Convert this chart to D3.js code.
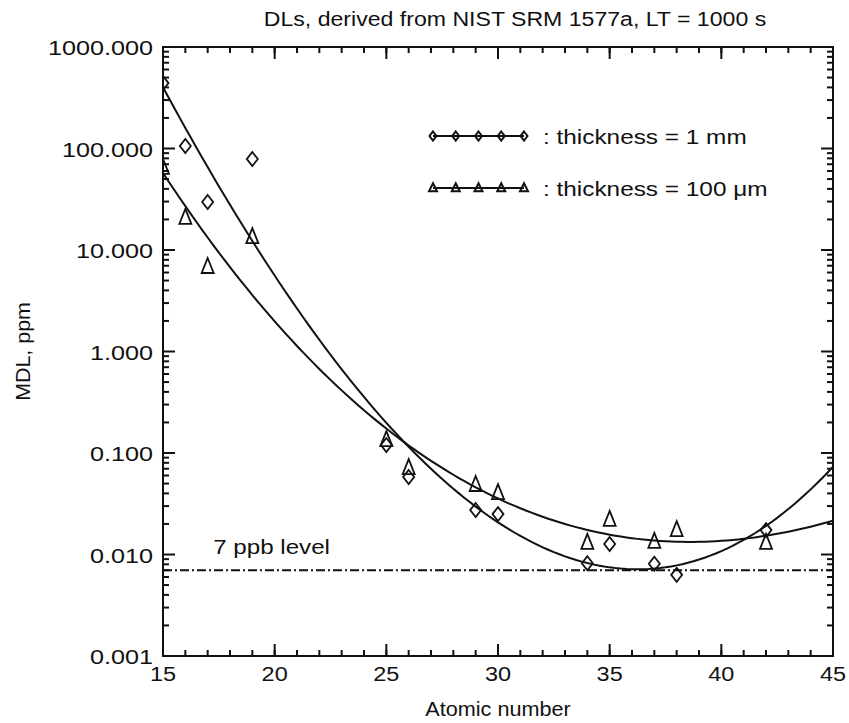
<!DOCTYPE html>
<html>
<head>
<meta charset="utf-8">
<script src="https://cdn.jsdelivr.net/npm/d3@7"></script>
<style>
  body { margin: 0; background: #fff; }
  svg text { font-family: "Liberation Sans", Arial, Helvetica, sans-serif; fill: #111; }
</style>
</head>
<body>
<svg id="chart"></svg>
<script>
const width = 849;
const height = 723;
const margin = {top: 47, right: 16, bottom: 67, left: 163};

// data
const atomicZ   = [15, 16, 17, 19, 25, 26, 29, 30, 34, 35, 37, 38, 42];
const mdl1mm    = [441, 106, 29.7, 78.8, 0.12, 0.058, 0.0274, 0.025, 0.0082, 0.0127, 0.0081, 0.0063, 0.0174];
const mdl100um  = [64.3, 20.7, 6.8, 13.4, 0.134, 0.071, 0.0484, 0.0403, 0.013, 0.0219, 0.0133, 0.0174, 0.013];
const xTicks = [15, 20, 25, 30, 35, 40, 45];
const yTicks = [0.001, 0.01, 0.1, 1, 10, 100, 1000];
const levelValue = 0.007;
const fitDegree = 3;

var svg = d3.select("#chart").attr("width", width).attr("height", height);

var x = d3.scaleLinear().domain([15, 45]).range([margin.left, width - margin.right]);
var y = d3.scaleLog().domain([0.001, 1000]).range([height - margin.bottom, margin.top]);

// least squares polynomial in log10 space
function polyfit(xs, ys, deg) {
  var n = deg + 1;
  var A = [], b = [];
  for (let i = 0; i < n; i++) {
    A.push(new Array(n).fill(0));
    b.push(0);
  }
  xs.forEach((xv, k) => {
    for (let i = 0; i < n; i++) {
      for (let j = 0; j < n; j++) A[i][j] += Math.pow(xv, i + j);
      b[i] += ys[k] * Math.pow(xv, i);
    }
  });
  for (let i = 0; i < n; i++) {
    let p = i;
    for (let r = i + 1; r < n; r++) if (Math.abs(A[r][i]) > Math.abs(A[p][i])) p = r;
    [A[i], A[p]] = [A[p], A[i]];
    [b[i], b[p]] = [b[p], b[i]];
    for (let r = i + 1; r < n; r++) {
      let f = A[r][i] / A[i][i];
      for (let c = i; c < n; c++) A[r][c] -= f * A[i][c];
      b[r] -= f * b[i];
    }
  }
  var coef = new Array(n).fill(0);
  for (let i = n - 1; i >= 0; i--) {
    let s = b[i];
    for (let c = i + 1; c < n; c++) s -= A[i][c] * coef[c];
    coef[i] = s / A[i][i];
  }
  return coef;
}

function fitCurve(vals) {
  var xc = atomicZ.map(d => d - 30);
  var coef = polyfit(xc, vals.map(v => Math.log10(v)), fitDegree);
  return d3.range(15, 45.001, 0.25).map(z => {
    var t = z - 30, s = 0;
    coef.forEach((c, i) => { s += c * Math.pow(t, i); });
    return [z, Math.pow(10, s)];
  });
}

// text helper: the original lettering is set wide
function label(sel, px, py, str, opts) {
  opts = opts || {};
  return sel.append("text")
    .attr("transform", `translate(${px},${py}) ${opts.rotate ? "rotate(" + opts.rotate + ")" : ""} scale(${opts.sx || 1.15},1)`)
    .attr("text-anchor", opts.anchor || "start")
    .attr("font-size", opts.size || 21)
    .text(str);
}

var plot = svg.append("g");
svg.append("clipPath").attr("id", "clip").append("rect")
  .attr("x", margin.left).attr("y", margin.top)
  .attr("width", width - margin.left - margin.right)
  .attr("height", height - margin.top - margin.bottom);

var line = d3.line().x(d => x(d[0])).y(d => y(d[1]));

plot.append("g").attr("clip-path", "url(#clip)")
  .selectAll("path.fit")
  .data([fitCurve(mdl1mm), fitCurve(mdl100um)])
  .enter().append("path")
  .attr("class", "fit")
  .attr("d", line)
  .attr("fill", "none").attr("stroke", "#111").attr("stroke-width", 2);

// 7 ppb line
plot.append("line")
  .attr("x1", x(15)).attr("x2", x(45))
  .attr("y1", y(levelValue)).attr("y2", y(levelValue))
  .attr("stroke", "#111").attr("stroke-width", 2)
  .attr("stroke-dasharray", "9,3,2,3");

label(plot, x(17.25), y(levelValue) - 16, "7 ppb level");

var diamond = (s, h) => `M0,${-h}L${s},0L0,${h}L${-s},0Z`;
var triangle = (s, h) => `M0,${-h * 0.6}L${s},${h * 0.4}L${-s},${h * 0.4}Z`;

plot.append("g").attr("clip-path", "url(#clip)")
  .selectAll("path.dia")
  .data(atomicZ.map((z, i) => [z, mdl1mm[i]]))
  .enter().append("path")
  .attr("transform", d => `translate(${x(d[0])},${y(d[1])})`)
  .attr("d", diamond(5.5, 7))
  .attr("fill", "none").attr("stroke", "#111").attr("stroke-width", 1.8);

plot.append("g").attr("clip-path", "url(#clip)")
  .selectAll("path.tri")
  .data(atomicZ.map((z, i) => [z, mdl100um[i]]))
  .enter().append("path")
  .attr("transform", d => `translate(${x(d[0])},${y(d[1])})`)
  .attr("d", triangle(6, 15))
  .attr("fill", "none").attr("stroke", "#111").attr("stroke-width", 1.8);

// axes, ticks inward
var minorX = d3.range(15, 46, 1);
var minorY = [];
yTicks.slice(0, -1).forEach(t => { for (let k = 2; k < 10; k++) minorY.push(t * k); });

var axes = svg.append("g").attr("stroke", "#111").attr("stroke-width", 2);
function tickLines(data, isX, pos, dir, len) {
  axes.append("g").selectAll("line").data(data).enter().append("line")
    .attr("x1", d => isX ? x(d) : pos).attr("x2", d => isX ? x(d) : pos + dir * len)
    .attr("y1", d => isX ? pos : y(d)).attr("y2", d => isX ? pos + dir * len : y(d));
}
var x0 = x(15), x1 = x(45), y0 = y(0.001), y1 = y(1000);
tickLines(minorX, true, y0, -1, 6);
tickLines(xTicks, true, y0, -1, 12);
tickLines(minorX, true, y1, 1, 6);
tickLines(xTicks, true, y1, 1, 12);
tickLines(minorY, false, x0, 1, 6);
tickLines(yTicks, false, x0, 1, 12);
tickLines(minorY, false, x1, -1, 6);
tickLines(yTicks, false, x1, -1, 12);
axes.append("rect").attr("x", x0).attr("y", y1)
  .attr("width", x1 - x0).attr("height", y0 - y1).attr("fill", "none");

var xLab = svg.append("g");
xTicks.forEach(t => label(xLab, x(t), y0 + 25, t, {anchor: "middle", sx: 1.12}));

var yLab = svg.append("g");
yTicks.forEach(t => label(yLab, x0 - 10, y(t) + 8, d3.format(".3f")(t), {anchor: "end", sx: 1.2}));

label(svg, (x0 + x1) / 2, height - 7, "Atomic number", {anchor: "middle", sx: 1.03});
label(svg, 30, (y0 + y1) / 2, "MDL, ppm", {anchor: "middle", rotate: -90, sx: 1.02});
label(svg, 515, 26, "DLs, derived from NIST SRM 1577a, LT = 1000 s", {anchor: "middle", sx: 1.1});

// legend
var legendItems = [
  {label: ": thickness = 1 mm", shape: diamond(3.5, 4.5), yy: 136},
  {label: ": thickness = 100 \u03bcm", shape: triangle(4, 8), yy: 188}
];
var legend = svg.append("g");
legendItems.forEach(item => {
  var g = legend.append("g").attr("transform", `translate(0,${item.yy})`);
  g.append("line").attr("x1", 433).attr("x2", 524)
    .attr("stroke", "#111").attr("stroke-width", 2);
  g.selectAll("path").data(d3.range(5)).enter().append("path")
    .attr("transform", d => `translate(${433 + d * 22.75},0)`)
    .attr("d", item.shape).attr("fill", "none")
    .attr("stroke", "#111").attr("stroke-width", 2);
  label(g, 543, 8, item.label, {sx: 1.16});
});
</script>
</body>
</html>
